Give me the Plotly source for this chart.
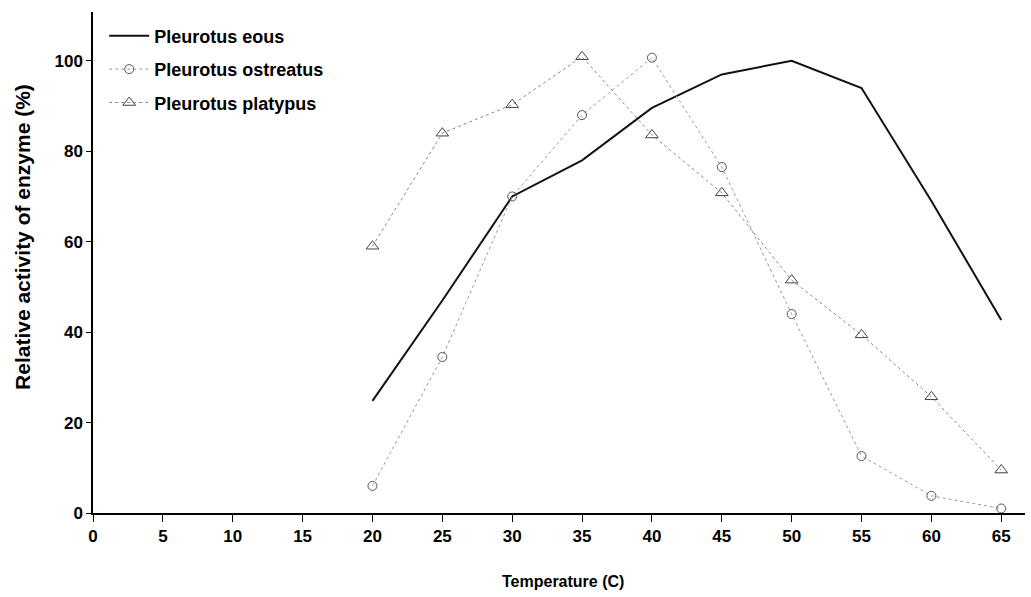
import plotly.graph_objects as go

temperature = [20, 25, 30, 35, 40, 45, 50, 55, 60, 65]
eous = [24.8, 47, 70, 78, 89.6, 97, 100, 94, 69, 42.7]
ostreatus = [6, 34.5, 70, 88, 100.7, 76.5, 44, 12.6, 3.8, 1]
platypus = [59, 84, 90.3, 100.9, 83.6, 70.8, 51.5, 39.4, 25.7, 9.5]
x_ticks = list(range(0, 70, 5))
y_ticks = [0, 20, 40, 60, 80, 100]

font_family = "Liberation Sans, Arial, sans-serif"

fig = go.Figure()
fig.add_trace(go.Scatter(
    x=temperature, y=eous, name="Pleurotus eous", mode="lines", legendgroup="a",
    line=dict(color="#111111", width=2),
))
fig.add_trace(go.Scatter(
    x=temperature, y=ostreatus, name="Pleurotus ostreatus", mode="lines+markers", legendgroup="b",
    line=dict(color="#9a9a9a", width=1, dash="dot"),
    marker=dict(symbol="circle-open", size=9, color="#555555", line=dict(width=1)),
))
fig.add_trace(go.Scatter(
    x=temperature, y=platypus, name="Pleurotus platypus", mode="lines+markers", legendgroup="c",
    line=dict(color="#8a8a8a", width=1, dash="dot"),
    marker=dict(symbol="triangle-up-open", size=11, color="#444444", line=dict(width=1)),
))

fig.update_layout(
    width=1031, height=597,
    margin=dict(l=93, r=6, t=12, b=84),
    paper_bgcolor="white", plot_bgcolor="white",
    font=dict(family=font_family, size=17, color="black", weight="bold"),
    showlegend=True,
    legend=dict(x=0.012, y=0.989, xanchor="left", yanchor="top",
                bgcolor="rgba(0,0,0,0)", font=dict(size=18, weight="bold"),
                tracegroupgap=7, itemwidth=40),
    annotations=[
        dict(text="Temperature (C)", xref="paper", yref="paper", x=0.5, y=0,
             xanchor="center", yanchor="middle", yshift=-68, xshift=4, showarrow=False,
             font=dict(size=16, weight="bold")),
        dict(text="Relative activity of enzyme (%)", xref="paper", yref="paper",
             x=0, y=0.551, xanchor="center", yanchor="middle", xshift=-70,
             textangle=-90, showarrow=False, font=dict(size=21, weight="bold")),
    ],
)
fig.update_xaxes(
    range=[0, 66.7], tickmode="array", tickvals=x_ticks,
    ticktext=[str(v) for v in x_ticks],
    showline=True, linecolor="black", linewidth=1.5,
    ticks="outside", ticklen=7, tickcolor="black",
    showgrid=False, zeroline=False,
)
fig.update_yaxes(
    range=[0, 110.8], tickmode="array", tickvals=y_ticks,
    ticktext=[str(v) for v in y_ticks],
    showline=True, linecolor="black", linewidth=1.5,
    ticks="outside", ticklen=5, tickcolor="black",
    showgrid=False, zeroline=False,
)

fig.write_html("out.html")
